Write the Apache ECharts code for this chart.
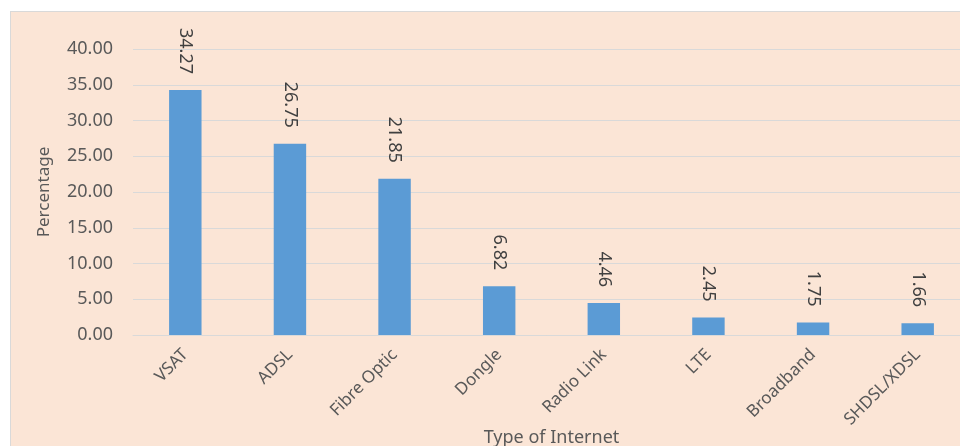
<!DOCTYPE html>
<html>
<head>
<meta charset="utf-8">
<script src="https://cdn.jsdelivr.net/npm/echarts@6/dist/echarts.min.js"></script>
<style>
  html, body { margin: 0; padding: 0; background: #fff; overflow: hidden; }
  #bg { position: absolute; left: 10px; top: 11px; width: 960px; height: 446px;
        background: #FBE5D6; border: 1px solid #D9D9D9; box-sizing: border-box; }
  #main { position: absolute; left: 0; top: 0; width: 960px; height: 446px; }
</style>
</head>
<body>
<div id="bg"></div>
<div id="main"></div>
<script>
// 数据
var categories = ['VSAT', 'ADSL', 'Fibre Optic', 'Dongle', 'Radio Link', 'LTE', 'Broadband', 'SHDSL/XDSL'];
var percentages = [34.27, 26.75, 21.85, 6.82, 4.46, 2.45, 1.75, 1.66];
var yTicks = { min: 0, max: 40, interval: 5 };

var textColor = '#595959';
var fontFamily = '"Noto Sans", "Open Sans", sans-serif';

var myChart = echarts.init(document.getElementById('main'));
myChart.setOption({
  backgroundColor: 'transparent',
  animation: false,
  grid: {
    left: 133,
    top: 49,
    width: 837,
    height: 286,
    containLabel: false,
    outerBoundsMode: 'none'
  },
  xAxis: {
    type: 'category',
    data: categories,
    name: 'Type of Internet',
    nameLocation: 'middle',
    nameGap: 94,
    nameMoveOverlap: false,
    nameTextStyle: { color: textColor, fontSize: 18, fontFamily: fontFamily, verticalAlign: 'top' },
    axisLine: { lineStyle: { color: '#D9D9D9', width: 1 } },
    axisTick: { show: false },
    axisLabel: {
      rotate: 45,
      interval: 0,
      margin: 17,
      color: textColor,
      fontSize: 17,
      fontFamily: fontFamily
    }
  },
  yAxis: {
    type: 'value',
    min: yTicks.min,
    max: yTicks.max,
    interval: yTicks.interval,
    name: 'Percentage',
    nameLocation: 'middle',
    nameRotate: 90,
    nameGap: 80,
    nameMoveOverlap: false,
    nameTextStyle: { color: textColor, fontSize: 17, fontFamily: fontFamily },
    axisLine: { show: false },
    axisTick: { show: false },
    axisLabel: {
      margin: 20,
      color: textColor,
      fontSize: 18,
      fontFamily: fontFamily,
      formatter: function (v) { return v.toFixed(2); }
    },
    splitLine: { lineStyle: { color: '#D9D9D9', width: 1 } }
  },
  series: [{
    type: 'bar',
    data: percentages,
    barWidth: '31%',
    itemStyle: { color: '#5B9BD5' },
    label: {
      show: true,
      position: 'top',
      rotate: -90,
      align: 'right',
      verticalAlign: 'middle',
      distance: 16,
      color: '#404040',
      fontSize: 18,
      fontFamily: fontFamily,
      formatter: function (p) { return p.value.toFixed(2); }
    }
  }]
});
</script>
</body>
</html>
